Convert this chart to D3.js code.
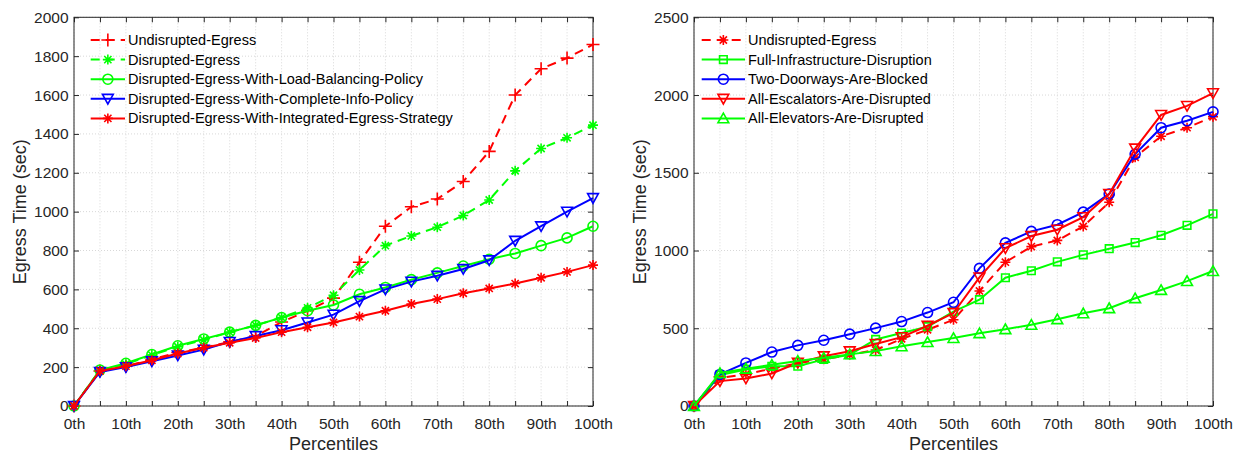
<!DOCTYPE html>
<html>
<head>
<meta charset="utf-8">
<script src="https://cdn.jsdelivr.net/npm/d3@7"></script>
<style>
  body { margin: 0; background: #fff; }
  svg { display: block; font-family: "Liberation Sans", Arial, sans-serif; }
</style>
</head>
<body>
<div id="chart"></div>
<script>
// Egress time per percentile, two panels

const percentiles = [0, 5, 10, 15, 20, 25, 30, 35, 40, 45, 50, 55, 60, 65, 70, 75, 80, 85, 90, 95, 100]
const xTickValues = [0, 10, 20, 30, 40, 50, 60, 70, 80, 90, 100]
const xTickLabels = ["0th", "10th", "20th", "30th", "40th", "50th", "60th", "70th", "80th", "90th", "100th"]

const leftYTicks = [0, 200, 400, 600, 800, 1000, 1200, 1400, 1600, 1800, 2000]
const rightYTicks = [0, 500, 1000, 1500, 2000, 2500]

// left panel
const undisruptedEgress = [0, 180, 205, 240, 275, 300, 330, 360, 432, 490, 555, 740, 925, 1025, 1065, 1155, 1310, 1600, 1735, 1790, 1860]
const disruptedEgress = [0, 185, 215, 262, 305, 340, 380, 415, 455, 505, 570, 700, 825, 875, 920, 980, 1060, 1210, 1325, 1380, 1445]
const loadBalancing = [0, 185, 220, 265, 310, 345, 380, 415, 455, 490, 520, 575, 610, 650, 685, 720, 755, 785, 825, 865, 925]
const completeInfo = [0, 175, 200, 230, 260, 290, 330, 360, 390, 430, 470, 540, 600, 640, 670, 705, 750, 850, 925, 1000, 1070]
const integratedStrategy = [0, 180, 205, 235, 270, 300, 325, 350, 380, 405, 430, 460, 490, 525, 550, 580, 605, 630, 660, 690, 725]

// right panel
const fullInfrastructure = [0, 200, 235, 255, 256, 300, 330, 428, 469, 510, 607, 684, 825, 870, 927, 972, 1012, 1051, 1098, 1162, 1236]
const twoDoorways = [0, 203, 277, 347, 390, 423, 462, 501, 543, 601, 667, 885, 1049, 1123, 1166, 1247, 1364, 1620, 1790, 1835, 1892]
const allEscalators = [0, 160, 177, 209, 278, 320, 352, 399, 443, 516, 598, 827, 1015, 1093, 1134, 1215, 1364, 1656, 1872, 1930, 2012]
const allElevators = [0, 212, 240, 265, 290, 310, 332, 353, 384, 411, 437, 468, 494, 522, 558, 596, 629, 693, 746, 803, 868]

const RED = "#ff0000", GREEN = "#00ff00", BLUE = "#0000ff", AXIS = "#262626"
const DASH = "9,6"

const panels = [
  {
    left: 74, right: 593, top: 17.3, bottom: 406,
    yMax: 2000, yTicks: leftYTicks,
    legend: { x0: 90.7, x1: 125, y0: 40, dy: 19.6 },
    series: [
      { name: "Undisrupted-Egress", values: undisruptedEgress, color: RED, dash: DASH, marker: "plus" },
      { name: "Disrupted-Egress", values: disruptedEgress, color: GREEN, dash: DASH, marker: "star" },
      { name: "Disrupted-Egress-With-Load-Balancing-Policy", values: loadBalancing, color: GREEN, dash: null, marker: "circle" },
      { name: "Disrupted-Egress-With-Complete-Info-Policy", values: completeInfo, color: BLUE, dash: null, marker: "tridown" },
      { name: "Disrupted-Egress-With-Integrated-Egress-Strategy", values: integratedStrategy, color: RED, dash: null, marker: "star" }
    ]
  },
  {
    left: 694, right: 1213, top: 17.3, bottom: 406,
    yMax: 2500, yTicks: rightYTicks,
    legend: { x0: 701.7, x1: 745, y0: 40, dy: 19.6 },
    series: [
      { name: "Undisrupted-Egress", values: undisruptedEgress, color: RED, dash: DASH, marker: "star" },
      { name: "Full-Infrastructure-Disruption", values: fullInfrastructure, color: GREEN, dash: null, marker: "square" },
      { name: "Two-Doorways-Are-Blocked", values: twoDoorways, color: BLUE, dash: null, marker: "circle" },
      { name: "All-Escalators-Are-Disrupted", values: allEscalators, color: RED, dash: null, marker: "tridown" },
      { name: "All-Elevators-Are-Disrupted", values: allElevators, color: GREEN, dash: null, marker: "triup" }
    ]
  }
]

const svg = d3.select("#chart").append("svg")
  .attr("width", 1233)
  .attr("height", 453)

function drawMarker(g, type, color) {
  if (type === "circle") {
    g.append("circle").attr("r", 5)
      .attr("fill", "none").attr("stroke", color).attr("stroke-width", 1.6)
    return
  }
  let d
  if (type === "plus") d = "M-6.5,0H6.5M0,-6.5V6.5"
  else if (type === "star") d = "M-5,0H5M0,-5V5M-3.6,-3.6L3.6,3.6M-3.6,3.6L3.6,-3.6"
  else if (type === "tridown") d = "M-5.4,-4.4L5.4,-4.4L0,5.2Z"
  else if (type === "triup") d = "M-5.4,4.4L5.4,4.4L0,-5.2Z"
  else if (type === "square") d = "M-3.8,-3.8H3.8V3.8H-3.8Z"
  g.append("path").attr("d", d)
    .attr("fill", "none").attr("stroke", color).attr("stroke-width", 1.6)
}

panels.forEach(function(p) {
  const x = d3.scaleLinear().domain([0, 100]).range([p.left, p.right])
  const y = d3.scaleLinear().domain([0, p.yMax]).range([p.bottom, p.top])
  const g = svg.append("g")

  // grid
  g.append("g").selectAll("line").data(percentiles).enter().append("line")
    .attr("x1", d => x(d)).attr("x2", d => x(d))
    .attr("y1", p.top).attr("y2", p.bottom)
    .attr("stroke", "#d8d8d8").attr("stroke-width", 1).attr("stroke-dasharray", "1,2")
  g.append("g").selectAll("line").data(p.yTicks).enter().append("line")
    .attr("x1", p.left).attr("x2", p.right)
    .attr("y1", d => y(d)).attr("y2", d => y(d))
    .attr("stroke", "#d8d8d8").attr("stroke-width", 1).attr("stroke-dasharray", "1,2")

  // axes (inward ticks)
  const bottomAxis = d3.axisBottom(x).tickValues(percentiles).tickSize(-5).tickSizeOuter(0).tickPadding(11.5)
    .tickFormat(d => { const i = xTickValues.indexOf(d); return i >= 0 ? xTickLabels[i] : "" })
  const topAxis = d3.axisTop(x).tickValues(percentiles).tickSize(-5).tickSizeOuter(0).tickFormat("")
  const leftAxis = d3.axisLeft(y).tickValues(p.yTicks).tickSize(-5).tickSizeOuter(0).tickPadding(5.5)
    .tickFormat(d3.format("d"))
  const rightAxis = d3.axisRight(y).tickValues(p.yTicks).tickSize(-5).tickSizeOuter(0).tickFormat("")

  const axes = [
    [bottomAxis, `translate(0,${p.bottom})`],
    [topAxis, `translate(0,${p.top})`],
    [leftAxis, `translate(${p.left},0)`],
    [rightAxis, `translate(${p.right},0)`]
  ]
  axes.forEach(function([ax, tr]) {
    const a = g.append("g").attr("transform", tr).call(ax)
    a.select(".domain").remove()
    a.selectAll(".tick line").attr("stroke", AXIS).attr("stroke-width", 1)
    a.selectAll("text").attr("fill", AXIS).style("font-size", "15.5px").style("font-family", "'Liberation Sans', Arial, sans-serif")
  })

  g.append("rect")
    .attr("x", p.left).attr("y", p.top)
    .attr("width", p.right - p.left).attr("height", p.bottom - p.top)
    .attr("fill", "none").attr("stroke", AXIS).attr("stroke-width", 1)

  // axis labels
  g.append("text")
    .attr("x", (p.left + p.right) / 2).attr("y", 450)
    .attr("text-anchor", "middle").attr("fill", AXIS)
    .style("font-size", "18px").text("Percentiles")
  g.append("text")
    .attr("transform", `translate(${p.left - 54},${(p.top + p.bottom) / 2}) rotate(-90)`)
    .attr("text-anchor", "middle").attr("dy", "0.35em").attr("fill", AXIS)
    .style("font-size", "18px").text("Egress Time (sec)")

  // series
  const line = d3.line().x((d, i) => x(percentiles[i])).y(d => y(d))
  p.series.forEach(function(s) {
    const sg = g.append("g")
    sg.append("path").datum(s.values)
      .attr("d", line)
      .attr("fill", "none").attr("stroke", s.color).attr("stroke-width", 2)
      .attr("stroke-dasharray", s.dash)
    s.values.forEach(function(v, i) {
      const m = sg.append("g").attr("transform", `translate(${x(percentiles[i])},${y(v)})`)
      drawMarker(m, s.marker, s.color)
    })
  })

  // legend (no box)
  const L = p.legend
  const lg = g.append("g")
  p.series.forEach(function(s, i) {
    const yy = L.y0 + i * L.dy
    lg.append("line").attr("x1", L.x0).attr("x2", L.x1).attr("y1", yy).attr("y2", yy)
      .attr("stroke", s.color).attr("stroke-width", 2).attr("stroke-dasharray", s.dash)
    const m = lg.append("g").attr("transform", `translate(${(L.x0 + L.x1) / 2},${yy})`)
    drawMarker(m, s.marker, s.color)
    lg.append("text").attr("x", L.x1 + 3).attr("y", yy).attr("dy", "0.35em")
      .attr("fill", "#000").style("font-size", "14.5px").text(s.name)
  })
})
</script>
</body>
</html>
